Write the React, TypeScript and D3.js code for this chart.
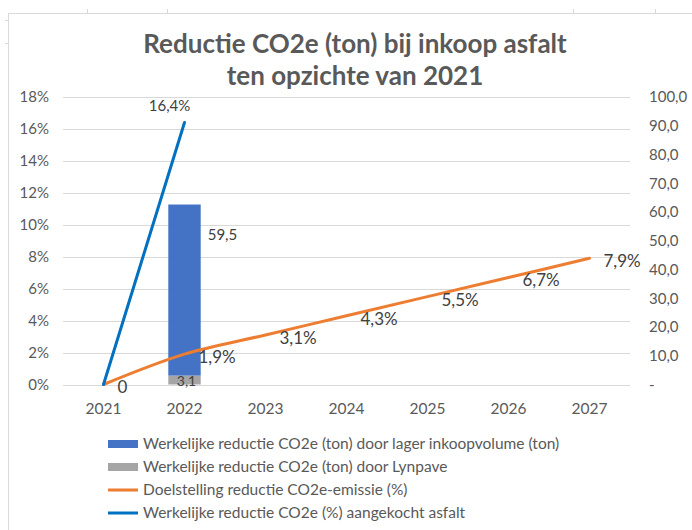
import React, { useEffect, useRef } from 'react';
import * as d3 from 'd3';

// chart data
const years = ['2021', '2022', '2023', '2024', '2025', '2026', '2027'];
const volumeReduction = [null, 59.5, null, null, null, null, null]; // ton, door lager inkoopvolume
const lynpaveReduction = [null, 3.1, null, null, null, null, null]; // ton, door Lynpave
const targetPct = [0, 1.9, 3.1, 4.3, 5.5, 6.7, 7.9]; // doelstelling (%)
const actualPct = [0, 16.4]; // werkelijke reductie (%) aangekocht asfalt
const leftTicks = [0, 2, 4, 6, 8, 10, 12, 14, 16, 18];
const rightTicks = [0, 10, 20, 30, 40, 50, 60, 70, 80, 90, 100];
const legendItems = [
	{ label: 'Werkelijke reductie CO2e (ton) door lager inkoopvolume (ton)', color: '#4472C4', type: 'bar' },
	{ label: 'Werkelijke reductie CO2e (ton) door Lynpave', color: '#A5A5A5', type: 'bar' },
	{ label: 'Doelstelling reductie CO2e-emissie (%)', color: '#ED7D31', type: 'line' },
	{ label: 'Werkelijke reductie CO2e (%) aangekocht asfalt', color: '#0070C0', type: 'line' },
];

const FONT = 'Lato, "Open Sans", sans-serif';
const fmt1 = (v: number) => v.toFixed(1).replace('.', ',');

export default function App() {
	const ref = useRef<SVGSVGElement>(null);

	useEffect(() => {
		const svg = d3.select(ref.current);
		svg.selectAll('*').remove();

		const width = 692, height = 530;
		const margin = { top: 97, left: 63, right: 62, bottom: 145.5 };
		const plotW = width - margin.left - margin.right;
		const plotH = height - margin.top - margin.bottom;

		svg.append('rect').attr('width', width).attr('height', height).attr('fill', 'white');

		// faint sheet / chart frame
		const frame = svg.append('g').attr('stroke', '#d9d9d9').attr('stroke-width', 1);
		frame.append('line').attr('x1', 8).attr('x2', width).attr('y1', 13.5).attr('y2', 13.5);
		frame.append('line').attr('x1', 8.5).attr('x2', 8.5).attr('y1', 13).attr('y2', height);
		;[87, 167, 573, 655].forEach(x => {
			frame.append('line').attr('x1', x + 0.5).attr('x2', x + 0.5).attr('y1', 9).attr('y2', 13);
		});
		;[20, 43].forEach(y => {
			frame.append('line').attr('x1', 5).attr('x2', 8).attr('y1', y + 0.5).attr('y2', y + 0.5);
		});

		// title
		const title = svg.append('text')
			.attr('text-anchor', 'middle')
			.attr('font-family', FONT)
			.attr('font-weight', 'bold')
			.attr('font-size', 26)
			.attr('fill', '#595959');
		title.append('tspan').attr('x', 355).attr('y', 53).text('Reductie CO2e (ton) bij inkoop asfalt');
		title.append('tspan').attr('x', 355).attr('y', 85).text('ten opzichte van 2021');

		const g = svg.append('g').attr('transform', `translate(${margin.left},${margin.top})`);

		const x = d3.scaleBand().domain(years).range([0, plotW]).padding(0);
		const yLeft = d3.scaleLinear().domain([0, 18]).range([plotH, 0]);
		const yRight = d3.scaleLinear().domain([0, 100]).range([plotH, 0]);

		// gridlines
		g.append('g').selectAll('line')
			.data(leftTicks)
			.enter()
			.append('line')
			.attr('x1', 0).attr('x2', plotW)
			.attr('y1', d => Math.round(yLeft(d)) + 0.5)
			.attr('y2', d => Math.round(yLeft(d)) + 0.5)
			.attr('stroke', '#d9d9d9')
			.attr('stroke-width', 1);

		// left axis labels
		g.append('g').selectAll('text')
			.data(leftTicks)
			.enter()
			.append('text')
			.text(d => d + '%')
			.attr('x', -14)
			.attr('y', d => yLeft(d))
			.attr('dy', '0.35em')
			.attr('text-anchor', 'end')
			.attr('font-family', FONT)
			.attr('font-size', 15)
			.attr('fill', '#595959');

		// right axis labels
		g.append('g').selectAll('text')
			.data(rightTicks)
			.enter()
			.append('text')
			.text(d => d === 0 ? '-' : fmt1(d))
			.attr('x', plotW + 19)
			.attr('y', d => yRight(d))
			.attr('dy', '0.35em')
			.attr('text-anchor', 'start')
			.attr('font-family', FONT)
			.attr('font-size', 15)
			.attr('fill', '#595959');

		// category labels
		g.append('g').selectAll('text')
			.data(years)
			.enter()
			.append('text')
			.text(d => d)
			.attr('x', d => x(d)! + x.bandwidth() / 2)
			.attr('y', plotH + 24)
			.attr('dy', '0.35em')
			.attr('text-anchor', 'middle')
			.attr('font-family', FONT)
			.attr('font-size', 15.5)
			.attr('fill', '#595959');

		// stacked bars (right axis)
		const barW = x.bandwidth() / 2.5;
		const stacked = years.map((yr, i) => ({
			year: yr,
			lyn: lynpaveReduction[i],
			vol: volumeReduction[i],
		})).filter(d => d.lyn != null || d.vol != null);

		stacked.forEach(d => {
			const cx = x(d.year)! + x.bandwidth() / 2;
			const lyn = d.lyn || 0;
			const vol = d.vol || 0;
			g.append('rect')
				.attr('x', cx - barW / 2)
				.attr('width', barW)
				.attr('y', yRight(lyn))
				.attr('height', plotH - yRight(lyn))
				.attr('fill', '#A5A5A5');
			g.append('rect')
				.attr('x', cx - barW / 2)
				.attr('width', barW)
				.attr('y', yRight(lyn + vol))
				.attr('height', yRight(lyn) - yRight(lyn + vol))
				.attr('fill', '#4472C4');
			g.append('text')
				.text(fmt1(lyn))
				.attr('x', cx + 2)
				.attr('y', yRight(lyn / 2) + 1)
				.attr('dy', '0.35em')
				.attr('text-anchor', 'middle')
				.attr('font-family', FONT)
				.attr('font-size', 14)
				.attr('fill', '#404040');
			g.append('text')
				.text(fmt1(vol))
				.attr('x', cx + barW / 2 + 7)
				.attr('y', yRight(lyn + vol) + 30)
				.attr('dy', '0.35em')
				.attr('text-anchor', 'start')
				.attr('font-family', FONT)
				.attr('font-size', 15)
				.attr('fill', '#404040');
		});

		const cxOf = (i: number) => x(years[i])! + x.bandwidth() / 2;

		// target line (smoothed)
		const targetLine = d3.line<number>()
			.x((d, i) => cxOf(i))
			.y(d => yLeft(d))
			.curve(d3.curveCatmullRom.alpha(0.5));
		g.append('path')
			.datum(targetPct)
			.attr('d', targetLine)
			.attr('fill', 'none')
			.attr('stroke', '#ED7D31')
			.attr('stroke-width', 3)
			.attr('stroke-linecap', 'round');

		g.append('g').selectAll('text')
			.data(targetPct)
			.enter()
			.append('text')
			.text(d => d === 0 ? '0' : fmt1(d) + '%')
			.attr('x', (d, i) => cxOf(i) + 14)
			.attr('y', d => yLeft(d) + 3)
			.attr('dy', '0.35em')
			.attr('text-anchor', 'start')
			.attr('font-family', FONT)
			.attr('font-size', 17)
			.attr('fill', '#404040');

		// actual line
		const actualLine = d3.line<number>()
			.x((d, i) => cxOf(i))
			.y(d => yLeft(d));
		g.append('path')
			.datum(actualPct)
			.attr('d', actualLine)
			.attr('fill', 'none')
			.attr('stroke', '#0070C0')
			.attr('stroke-width', 3)
			.attr('stroke-linecap', 'round');

		const lastI = actualPct.length - 1;
		g.append('text')
			.text(fmt1(actualPct[lastI]) + '%')
			.attr('x', cxOf(lastI) - 15)
			.attr('y', yLeft(actualPct[lastI]) - 17)
			.attr('dy', '0.35em')
			.attr('text-anchor', 'middle')
			.attr('font-family', FONT)
			.attr('font-size', 15)
			.attr('fill', '#404040');

		// legend
		const legend = svg.append('g').attr('transform', 'translate(108,444)');
		legendItems.forEach((item, i) => {
			const row = legend.append('g').attr('transform', `translate(0,${i * 23})`);
			if (item.type === 'bar') {
				row.append('rect').attr('x', 0).attr('y', -4).attr('width', 30).attr('height', 8).attr('fill', item.color);
			} else {
				row.append('line').attr('x1', 0).attr('x2', 30).attr('y1', 0).attr('y2', 0)
					.attr('stroke', item.color).attr('stroke-width', 3);
			}
			row.append('text')
				.text(item.label)
				.attr('x', 35)
				.attr('y', 0)
				.attr('dy', '0.35em')
				.attr('font-family', FONT)
				.attr('font-size', 15.5)
				.attr('fill', '#595959');
		});
	}, []);

	return (
		<svg ref={ref} width={692} height={530} style={{ position: 'absolute', left: 0, top: 0 }} />
	);
}
